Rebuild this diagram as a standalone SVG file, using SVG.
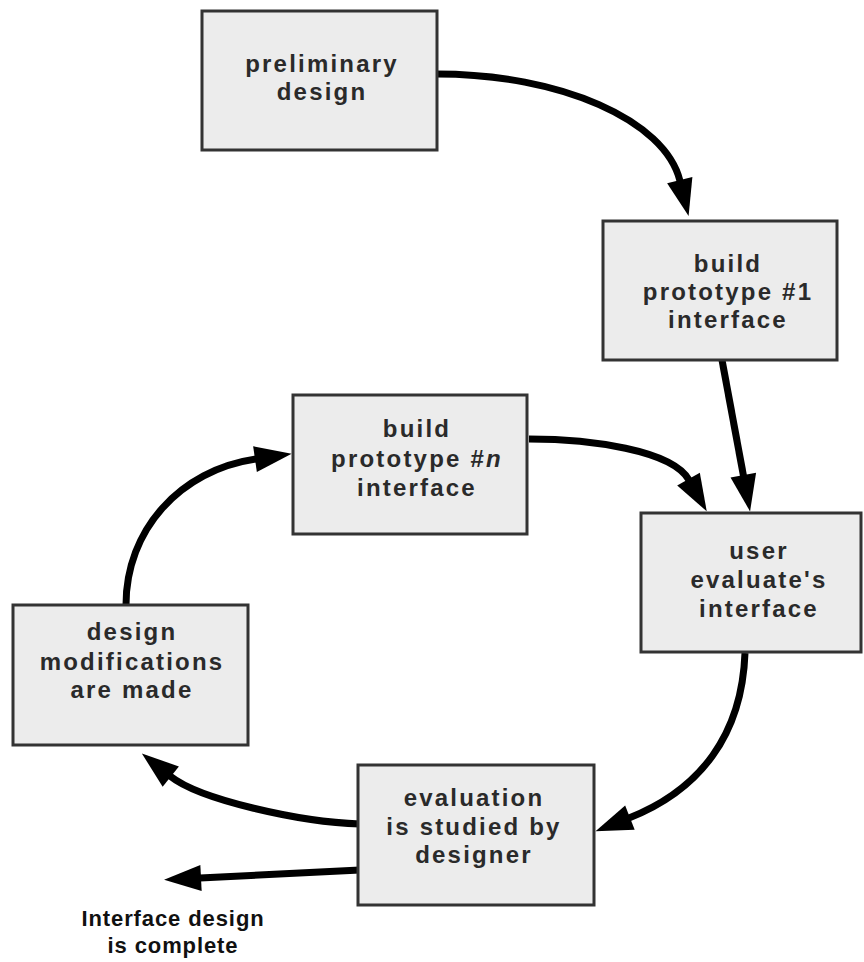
<svg xmlns="http://www.w3.org/2000/svg" width="864" height="962" viewBox="0 0 864 962">
<style>
.box{fill:#ececec;stroke:#333;stroke-width:3}
.lbl{font-family:"Liberation Sans",Arial,sans-serif;font-weight:bold;font-size:24px;letter-spacing:2.2px;fill:#2a2a2a;text-anchor:middle}
.end{font-family:"Liberation Sans",Arial,sans-serif;font-weight:bold;font-size:22px;letter-spacing:0.9px;fill:#111;text-anchor:middle}
.arr{fill:none;stroke:#000;stroke-width:7;marker-end:url(#ah)}
</style>
<defs>
<marker id="ah" markerUnits="userSpaceOnUse" markerWidth="38" markerHeight="28" refX="1" refY="13" orient="auto" overflow="visible">
<path d="M0,0 L37,13 L0,26 Z" fill="#000"/>
</marker>
</defs>
<rect width="864" height="962" fill="#fff"/>
<g id="connectors">
<path class="arr" d="M437,74 C560,74 665,120 680,181"/>
<path class="arr" d="M722,360 L743.5,476"/>
<path class="arr" d="M529,439 C590,439 672,450 689,480"/>
<path class="arr" d="M745,653 C742,735 700,790 629,818"/>
<path class="arr" d="M360,824 C300,822 200,800 170,776"/>
<path class="arr" d="M126,605 C126,530 180,470 256,459"/>
<path class="arr" d="M360,870 L200,878"/>
</g>
<g id="preliminary">
<rect class="box" x="202" y="11" width="235" height="139"/>
<text class="lbl" x="322" y="72">preliminary</text>
<text class="lbl" x="322" y="100">design</text>
</g>
<g id="proto1">
<rect class="box" x="603" y="221" width="234" height="139"/>
<text class="lbl" x="728" y="272">build</text>
<text class="lbl" x="728" y="300">prototype #1</text>
<text class="lbl" x="728" y="328">interface</text>
</g>
<g id="proton">
<rect class="box" x="293" y="395" width="234" height="139"/>
<text class="lbl" x="417" y="437">build</text>
<text class="lbl" x="417" y="467">prototype #<tspan font-style="italic">n</tspan></text>
<text class="lbl" x="417" y="496">interface</text>
</g>
<g id="user">
<rect class="box" x="641" y="513" width="220" height="139"/>
<text class="lbl" x="759" y="559">user</text>
<text class="lbl" x="759" y="588">evaluate's</text>
<text class="lbl" x="759" y="617">interface</text>
</g>
<g id="mods">
<rect class="box" x="13" y="605" width="235" height="140"/>
<text class="lbl" x="132" y="640">design</text>
<text class="lbl" x="132" y="670">modifications</text>
<text class="lbl" x="132" y="698">are made</text>
</g>
<g id="evaluation">
<rect class="box" x="358" y="765" width="236" height="140"/>
<text class="lbl" x="474" y="806">evaluation</text>
<text class="lbl" x="474" y="835">is studied by</text>
<text class="lbl" x="474" y="863">designer</text>
</g>
<g id="complete">
<text class="end" x="173" y="926">Interface design</text>
<text class="end" x="173" y="953">is complete</text>
</g>
</svg>
